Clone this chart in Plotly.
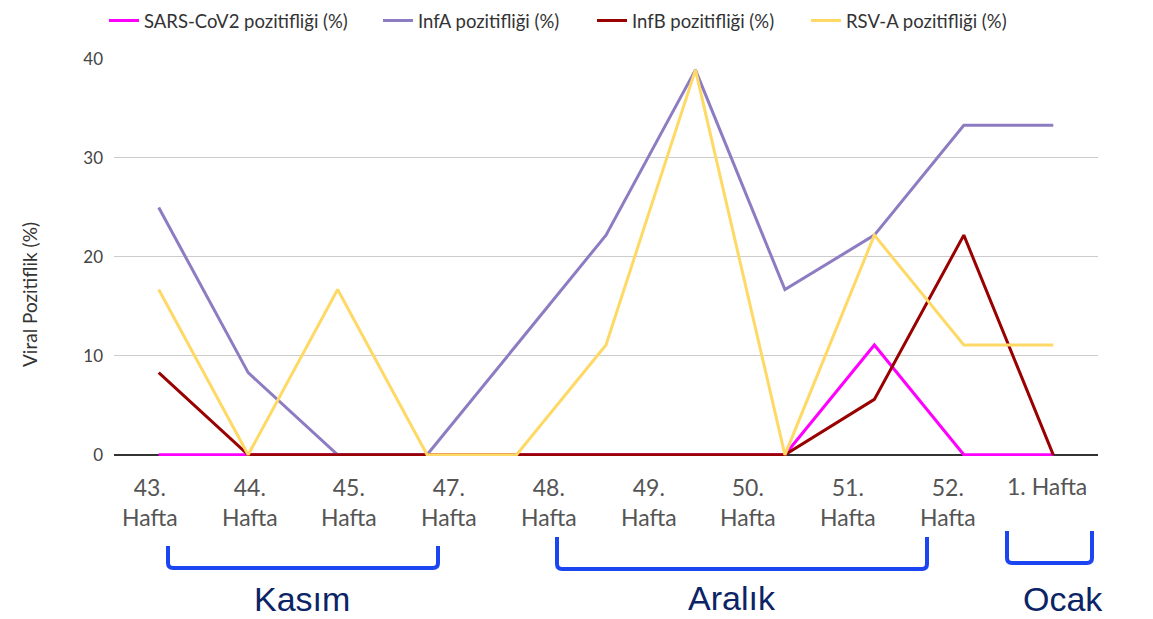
import plotly.graph_objects as go

# ---------------- data ----------------
weeks = ["43. Hafta", "44. Hafta", "45. Hafta", "46. Hafta", "47. Hafta", "48. Hafta",
         "49. Hafta", "50. Hafta", "51. Hafta", "52. Hafta", "1. Hafta"]
sars = [0, 0, 0, 0, 0, 0, 0, 0, 11.1, 0, 0]
infa = [25.0, 8.3, 0, 0, 11.1, 22.2, 38.9, 16.7, 22.2, 33.3, 33.3]
infb = [8.3, 0, 0, 0, 0, 0, 0, 0, 5.6, 22.2, 0]
rsva = [16.7, 0, 16.7, 0, 0, 11.1, 38.9, 0, 22.2, 11.1, 11.1]

series_names = ["SARS-CoV2 pozitifliği (%)", "InfA pozitifliği (%)",
                "InfB pozitifliği (%)", "RSV-A pozitifliği (%)"]
series_colors = ["#ff00ff", "#8e7cc3", "#990000", "#ffd966"]

tick_labels = ["43.<br>Hafta", "44.<br>Hafta", "45.<br>Hafta", "47.<br>Hafta", "48.<br>Hafta",
               "49.<br>Hafta", "50.<br>Hafta", "51.<br>Hafta", "52.<br>Hafta", "1. Hafta"]
y_ticks = [0, 10, 20, 30, 40]
months = ["Kasım", "Aralık", "Ocak"]

# ---------------- layout geometry (page pixels) ----------------
PAGE_W, PAGE_H = 1153, 619
OFF = 8                      # default body margin of the html page
W, H = PAGE_W - OFF, PAGE_H - OFF
L, R, T, B = 114, 1098, 59, 456


def pxx(p):
    return (p - L) / (R - L)


def pxy(p):
    return (B - p) / (B - T)


fig = go.Figure()
legend_ids = ["legend", "legend2", "legend3", "legend4"]
for name, vals, col, lg in zip(series_names, [sars, infa, infb, rsva], series_colors, legend_ids):
    fig.add_trace(go.Scatter(x=weeks, y=vals, mode="lines", name=name,
                             line=dict(color=col, width=3), legend=lg))

legend_font = dict(family="Lato, Carlito, sans-serif", size=18.5, color="#333333")
legend_x_px = [104, 378, 592, 806]
layout_legends = {}
for lg, xp in zip(legend_ids, legend_x_px):
    layout_legends[lg] = dict(x=pxx(xp), xanchor="left", y=pxy(2), yanchor="top",
                              orientation="h", font=legend_font, bgcolor="rgba(0,0,0,0)",
                              borderwidth=0, itemclick=False, itemdoubleclick=False)

annotations = []
# x tick labels (overlay style labels)
for i, t in enumerate(tick_labels):
    cx = 150 + 99.7 * i
    cy = 502 if "<br>" in t else 486
    annotations.append(dict(x=pxx(cx), y=pxy(cy), xref="paper", yref="paper", text=t,
                            showarrow=False, xanchor="center", yanchor="middle",
                            font=dict(family="Lato, Carlito, sans-serif", size=23, color="#555555")))

# y-axis title
annotations.append(dict(x=pxx(29), y=pxy(295), xref="paper", yref="paper",
                        text="Viral Pozitiflik (%)", textangle=-90, showarrow=False,
                        xanchor="center", yanchor="middle",
                        font=dict(family="Lato, Carlito, sans-serif", size=19, color="#333333")))

# month brackets
brackets = [(168, 438, 546, 568), (557, 927, 537, 569), (1007, 1092, 531, 563)]
month_centers = [(302, 599), (732, 598), (1063, 599)]
shapes = []
r = 5
for (x0, x1, yt, yb) in brackets:
    path = (f"M {pxx(x0)},{pxy(yt)} L {pxx(x0)},{pxy(yb - r)} "
            f"Q {pxx(x0)},{pxy(yb)} {pxx(x0 + r)},{pxy(yb)} "
            f"L {pxx(x1 - r)},{pxy(yb)} Q {pxx(x1)},{pxy(yb)} {pxx(x1)},{pxy(yb - r)} "
            f"L {pxx(x1)},{pxy(yt)}")
    shapes.append(dict(type="path", path=path, xref="paper", yref="paper",
                       line=dict(color="#1c45f2", width=4)))
for m, (cx, cy) in zip(months, month_centers):
    annotations.append(dict(x=pxx(cx), y=pxy(cy), xref="paper", yref="paper", text=m,
                            showarrow=False, xanchor="center", yanchor="middle",
                            font=dict(family="Liberation Sans, Arial, sans-serif", size=34,
                                      color="#0b2466")))

fig.update_layout(
    width=W, height=H,
    margin=dict(l=L - OFF, r=PAGE_W - R, t=T - OFF, b=PAGE_H - B, pad=0, autoexpand=False),
    paper_bgcolor="white", plot_bgcolor="white",
    showlegend=True,
    annotations=annotations,
    shapes=shapes,
    **layout_legends,
)
fig.update_xaxes(type="category", range=[-0.5, 10.5], showticklabels=False, showgrid=False,
                 zeroline=False, showline=False, ticks="")
fig.update_yaxes(range=[-0.12, 40], tickvals=y_ticks, showgrid=True, gridcolor="#cccccc",
                 gridwidth=1, zeroline=True, zerolinecolor="#333333", zerolinewidth=1.5,
                 showline=False, ticks="", ticklabelstandoff=10,
                 tickfont=dict(family="Lato, Carlito, sans-serif", size=17, color="#444444"))

fig.write_html("out.html")
